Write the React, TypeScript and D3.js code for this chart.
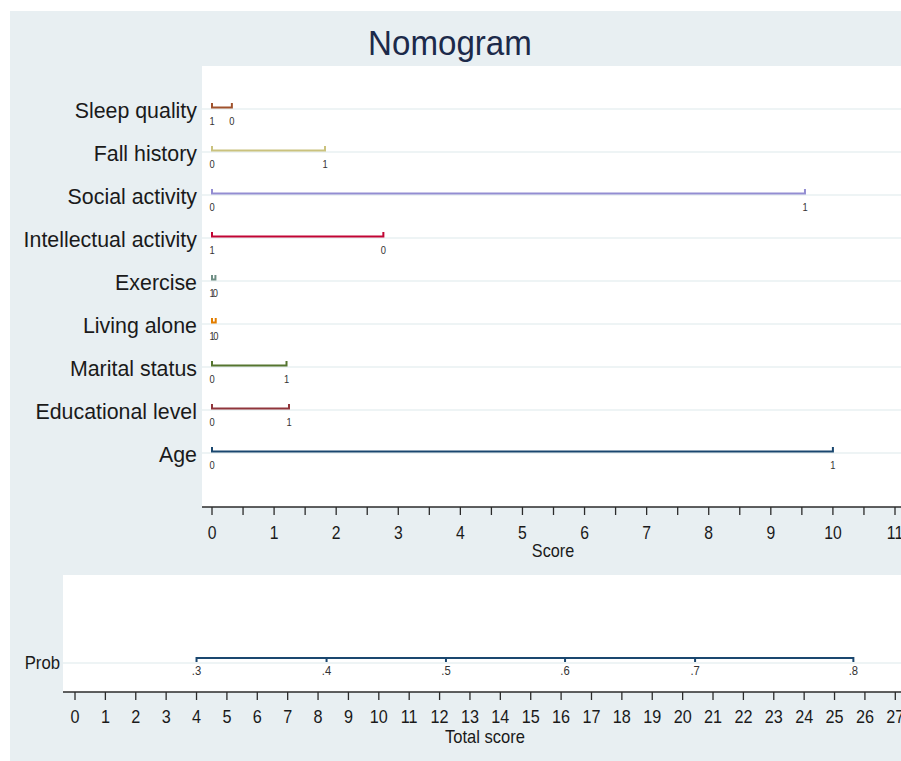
import React from "react";
import * as d3 from "d3";

const variables = [
  "Sleep quality",
  "Fall history",
  "Social activity",
  "Intellectual activity",
  "Exercise",
  "Living alone",
  "Marital status",
  "Educational level",
  "Age",
];
const levelLabels = [
  ["1", "0"],
  ["0", "1"],
  ["0", "1"],
  ["1", "0"],
  ["1", "0"],
  ["1", "0"],
  ["0", "1"],
  ["0", "1"],
  ["0", "1"],
];
const levelScores = [
  [0, 0.32],
  [0, 1.82],
  [0, 9.55],
  [0, 2.76],
  [0, 0.055],
  [0, 0.06],
  [0, 1.2],
  [0, 1.24],
  [0, 10.0],
];
const colors = [
  "#a0522d",
  "#cac27e",
  "#938dd2",
  "#c10534",
  "#6e8e84",
  "#e37e00",
  "#55752f",
  "#90353b",
  "#1a476f",
];
const scoreTicks = d3.range(0, 12);
const scoreMinorTicks = d3.range(0.5, 11, 1);
const totalTicks = d3.range(0, 28);
const probValues = [0.3, 0.4, 0.5, 0.6, 0.7, 0.8];
const probLabels = [".3", ".4", ".5", ".6", ".7", ".8"];
const probTotals = [4.0, 8.28, 12.21, 16.13, 20.41, 25.62];

const W = 901;
const H = 761;
const BG = "#e8eff2";
const GRID = "#e9f0f2";
const AXIS = "#2b2b2b";
const FONT = "'Liberation Sans', Arial, sans-serif";

function T({ x, y, size, anchor = "middle", sx = 0.93, fill = "#1a1a1a", children }: any) {
  return (
    <text
      transform={`translate(${x},${y}) scale(${sx},1)`}
      fontSize={size}
      textAnchor={anchor}
      dominantBaseline="central"
      fontFamily={FONT}
      fill={fill}
    >
      {children}
    </text>
  );
}

export default function App() {
  const xScore = d3.scaleLinear().domain([0, 11]).range([212, 895]);
  const yRow = d3
    .scalePoint<string>()
    .domain(variables)
    .range([109, 453]);
  const xTotal = d3.scaleLinear().domain([0, 27]).range([75, 895.3]);

  const upTop = 66;
  const upBottom = 507;
  const upLeft = 202;
  const loTop = 575;
  const loBottom = 692;
  const loLeft = 63;
  const probY = 663;

  return (
    <svg
      width={W}
      height={H}
      style={{ position: "absolute", left: 0, top: 0, background: "#fff" }}
    >
      <rect x={10} y={11} width={W - 10} height={H - 11} fill={BG} />
      <T x={450} y={43} size={36} sx={0.92} fill="#1c2a4a">
        Nomogram
      </T>

      {/* upper panel */}
      <rect x={upLeft} y={upTop} width={W - upLeft} height={upBottom - upTop} fill="#fff" />
      {variables.map((v, i) => {
        const y = yRow(v)!;
        const s = levelScores[i];
        const x0 = xScore(s[0]);
        const x1 = xScore(s[1]);
        return (
          <g key={v}>
            <line x1={upLeft} x2={W} y1={y} y2={y} stroke={GRID} strokeWidth={1.5} />
            <T x={197} y={y + 1} size={22.5} anchor="end" sx={0.95}>
              {v}
            </T>
            <path
              d={`M${x0},${y - 6}V${y - 1.5}H${x1}V${y - 6}`}
              fill="none"
              stroke={colors[i]}
              strokeWidth={2}
            />
            {s.map((sc, j) => (
              <T key={j} x={xScore(sc)} y={y + 12} size={11} sx={0.85} fill="#333">
                {levelLabels[i][j]}
              </T>
            ))}
          </g>
        );
      })}
      <line x1={upLeft} x2={W} y1={upBottom} y2={upBottom} stroke={AXIS} strokeWidth={1.5} />
      {scoreTicks.map((t) => (
        <g key={t}>
          <line x1={xScore(t)} x2={xScore(t)} y1={upBottom} y2={upBottom + 8} stroke={AXIS} strokeWidth={1.3} />
          <T x={xScore(t)} y={533} size={18.5} sx={0.85}>
            {t}
          </T>
        </g>
      ))}
      {scoreMinorTicks.map((t) => (
        <line key={t} x1={xScore(t)} x2={xScore(t)} y1={upBottom} y2={upBottom + 8} stroke={AXIS} strokeWidth={1.3} />
      ))}
      <T x={553} y={551} size={18} sx={0.9}>
        Score
      </T>

      {/* lower panel */}
      <rect x={loLeft} y={loTop} width={W - loLeft} height={loBottom - loTop} fill="#fff" />
      <line x1={loLeft} x2={W} y1={probY} y2={probY} stroke={GRID} strokeWidth={1.5} />
      <T x={60} y={probY} size={18} anchor="end" sx={0.93}>
        Prob
      </T>
      <path
        d={`M${xTotal(probTotals[0])},${probY - 5}H${xTotal(probTotals[probTotals.length - 1])}`}
        fill="none"
        stroke="#1a476f"
        strokeWidth={2}
      />
      {probTotals.map((t, i) => (
        <g key={probValues[i]}>
          <line x1={xTotal(t)} x2={xTotal(t)} y1={probY - 6} y2={probY - 1} stroke="#1a476f" strokeWidth={2} />
          <T x={xTotal(t)} y={probY + 8} size={12.5} sx={0.9} fill="#333">
            {probLabels[i]}
          </T>
        </g>
      ))}
      <line x1={loLeft} x2={W} y1={loBottom} y2={loBottom} stroke={AXIS} strokeWidth={1.5} />
      {totalTicks.map((t) => (
        <g key={t}>
          <line x1={xTotal(t)} x2={xTotal(t)} y1={loBottom} y2={loBottom + 8} stroke={AXIS} strokeWidth={1.3} />
          <T x={xTotal(t)} y={717} size={18} sx={0.9}>
            {t}
          </T>
        </g>
      ))}
      <T x={485} y={737} size={18} sx={0.92}>
        Total score
      </T>
    </svg>
  );
}
